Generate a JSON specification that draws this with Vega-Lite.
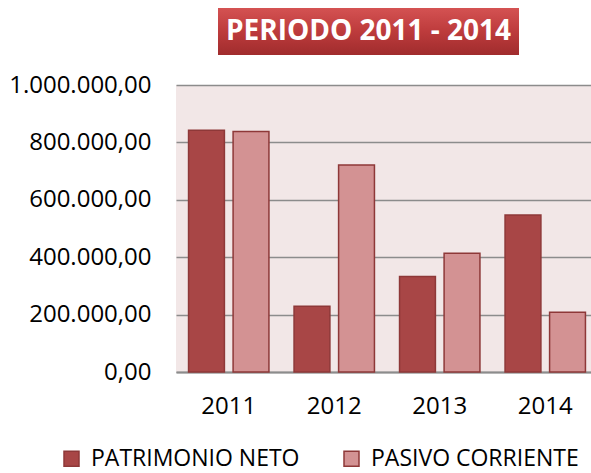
{
  "$schema": "https://vega.github.io/schema/vega-lite/v6.json",
  "padding": {"left": 8, "top": 8, "right": 0, "bottom": 0},
  "autosize": {"type": "pad"},
  "background": "white",
  "spacing": 18,
  "bounds": "full",
  "config": {
    "view": {"stroke": null},
    "font": "Open Sans",
    "locale": {"number": {"decimal": ",", "thousands": ".", "grouping": [3], "currency": ["", ""]}}
  },
  "vconcat": [
    {
      "spacing": 0,
      "hconcat": [
        {
          "width": 42,
          "height": 47,
          "data": {"values": []},
          "mark": {"type": "text"},
          "encoding": {}
        },
        {
          "width": 301,
          "height": 47,
          "view": {"fill": {"gradient": "linear", "x1": 0, "y1": 0, "x2": 0, "y2": 1, "stops": [{"offset": 0, "color": "#d45252"}, {"offset": 0.5, "color": "#bd3b3c"}, {"offset": 1, "color": "#a02c2d"}]}, "stroke": null},
          "data": {"values": [{"titulo": "PERIODO 2011 - 2014"}]},
          "mark": {"type": "text", "font": "Open Sans", "fontWeight": "bold", "fontSize": 28, "color": "white", "baseline": "middle"},
          "encoding": {
            "text": {"field": "titulo"}
          }
        }
      ]
    },
    {
      "width": 422,
      "height": 287,
      "view": {"fill": "#f2e7e7", "stroke": null},
      "data": {"values": [
        {"anio": "2011", "serie": "PATRIMONIO NETO", "valor": 842000},
        {"anio": "2011", "serie": "PASIVO CORRIENTE", "valor": 838000},
        {"anio": "2012", "serie": "PATRIMONIO NETO", "valor": 229000},
        {"anio": "2012", "serie": "PASIVO CORRIENTE", "valor": 721000},
        {"anio": "2013", "serie": "PATRIMONIO NETO", "valor": 333000},
        {"anio": "2013", "serie": "PASIVO CORRIENTE", "valor": 414000},
        {"anio": "2014", "serie": "PATRIMONIO NETO", "valor": 547000},
        {"anio": "2014", "serie": "PASIVO CORRIENTE", "valor": 208000}
      ]},
      "mark": {"type": "bar", "stroke": "#8e3838", "strokeWidth": 1.5},
      "encoding": {
        "x": {"field": "anio", "type": "nominal",
          "scale": {"paddingInner": 0.238, "paddingOuter": 0.119},
          "axis": {"title": null, "labelAngle": 0, "ticks": false, "domainColor": "#8c8c8c", "domainWidth": 2, "labelFontSize": 24, "labelPadding": 22, "labelColor": "black", "labelFont": "Open Sans"}},
        "xOffset": {"field": "serie", "type": "nominal", "sort": ["PATRIMONIO NETO", "PASIVO CORRIENTE"], "scale": {"paddingInner": 0.195, "paddingOuter": 0}},
        "y": {"field": "valor", "type": "quantitative",
          "scale": {"domain": [0, 1000000]},
          "axis": {"title": null, "values": [0, 200000, 400000, 600000, 800000, 1000000], "format": ",.2f", "domain": false, "ticks": false, "gridColor": "#8c8c8c", "gridWidth": 1.5, "labelPadding": 25, "labelFontSize": 24, "labelFont": "Open Sans", "labelColor": "black", "minExtent": 167, "maxExtent": 167}},
        "color": {"field": "serie", "type": "nominal",
          "scale": {"domain": ["PATRIMONIO NETO", "PASIVO CORRIENTE"], "range": ["#a84646", "#d39293"]},
          "legend": {"title": null, "orient": "none", "direction": "horizontal", "legendX": -116, "legendY": 439, "padding": 0, "symbolType": "square", "symbolSize": 225, "symbolStrokeWidth": 1.5, "symbolStrokeColor": "#8e3838", "labelFontSize": 23, "labelFont": "Open Sans", "labelColor": "black", "columnPadding": 40, "labelOffset": 8, "labelLimit": 400}}
      }
    }
  ]
}
